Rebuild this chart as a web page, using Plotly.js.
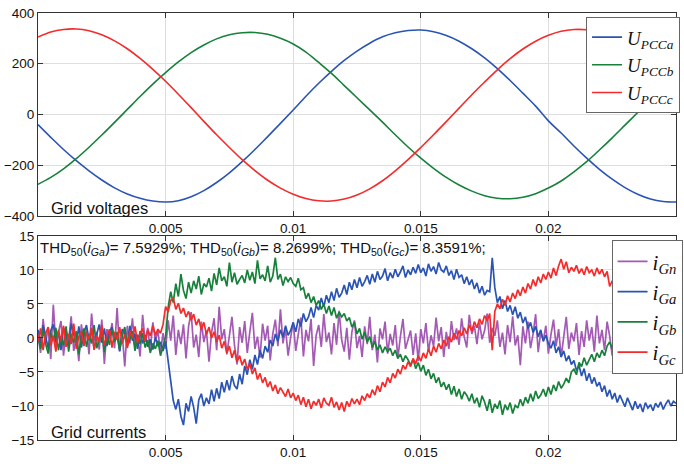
<!DOCTYPE html>
<html>
<head>
<meta charset="utf-8">
<script src="https://cdn.plot.ly/plotly-3.0.1.min.js"></script>
<style>html,body{margin:0;padding:0;background:#fff;}#chart{width:684px;height:464px;}</style>
</head>
<body>
<div id="chart"></div>
<script>
// ---- Grid voltages (sampled every 0.0005 s from t = 0) ----
const V_T0 = 0, V_DT = 0.0005;
const uPCCa = [-40, -90, -138, -182, -222, -258, -289, -313, -330, -341,
  -345, -340, -324, -300, -268, -230, -186, -138, -87, -35,
  18, 72, 123, 170, 213, 250, 281, 306, 322, 331,
  333, 326, 311, 289, 259, 223, 181, 134, 84, 33,
  -25, -73, -124, -172, -216, -255, -288, -314, -333, -343, -345];
const uPCCb = [-275, -248, -214, -174, -129, -81, -31, 20, 71, 120,
  165, 207, 244, 274, 298, 314, 322, 323, 316, 300,
  278, 246, 205, 162, 114, 66, 18, -30, -80, -128,
  -172, -212, -248, -278, -302, -320, -330, -332, -326, -312,
  -290, -262, -226, -186, -140, -92, -42, 8, 58, 106, 158];
const uPCCc = [305, 325, 335, 337, 330, 314, 290, 259, 221, 178,
  131, 80, 27, -27, -80, -130, -178, -221, -259, -290,
  -314, -331, -340, -341, -333, -317, -293, -261, -222, -178,
  -130, -80, -28, 25, 78, 128, 176, 220, 258, 289,
  312, 328, 335, 334, 326, 311, 289, 261, 227, 190, 150];

// ---- Grid currents (sampled every 0.0001 s from t = 0) ----
const I_T0 = 0, I_DT = 0.0001;
const iGn = [
  0.5, -2.2, 2.8, -0.7, 1.6, -3.1, 4.9, -1.2, 0.8, 2.5,
  -2.6, 1.1, -0.4, 3.2, -1.9, 0.2, -3.4, 2.0, -0.9, 1.4,
  -2.4, 3.6, -0.5, 0.9, -1.7, 2.7, -3.8, 1.3, -0.2, 2.2,
  -1.5, 4.4, -2.0, 0.6, -4.2, 1.8, -0.8, 2.9, -1.3, 0.4,
  -2.7, 3.4, -0.6, 1.5, -1.9, 2.3, -0.3, 1.0, -2.1, 0.7,
  -1.6, 2.6, -0.4, 3.3, -2.5, 1.2, -0.9, 2.0, -3.0, 1.7,
  3.8, -1.4, 0.5, -2.8, 2.4, -0.6, 1.1, -3.5, 0.8, 2.9,
  -1.8, 4.6, -0.2, 1.3, -2.4, 0.3, 3.1, -1.1, -3.9, 1.6,
  -0.7, 2.5, -2.2, 0.9, 3.7, -1.6, 0.2, -2.9, 2.1, -0.4,
  1.8, -3.3, 0.6, 2.7, -1.2, 4.2, -0.8, 1.4, -2.6, 0.1,
  2.3, -1.9, 0.7, 3.0, -2.7, 1.2, -0.5, 2.8, -4.1, 0.4,
  1.9, -1.3, 3.5, -0.6, 0.8, -2.4, 2.2, -1.0, 4.0, -0.3,
  -2.0, 1.5, -3.2, 0.9, 2.6, -1.5, 0.3, -2.8, 1.7, -0.9,
  3.1, -1.8, 0.5, -3.6, 1.4, -0.2, 2.4, -2.3, 0.6, -1.1,
  1.9, -3.0, 0.2, 2.8, -1.6, -0.4, 1.1, -2.5, 0.7, -3.4,
  1.3, -0.8, 2.2, -2.0, 0.4, -1.2, 3.0, -0.5, 1.6, -2.8,
  0.9, -1.6, 2.5, -0.3, 1.4, -1.0, 2.9, 0.2, -1.4, 3.4,
  0.6, 1.8, -0.9, 2.3, -0.2, 1.1, 3.6, -0.7, 1.5, 0.3,
  2.6, -1.3, 0.8, -2.4, 1.9, -0.6, 3.2, -1.1, 0.4, -4.0,
  1.7, -0.8, 2.4, -1.5, 0.6, 3.5, -2.1, 0.9, -0.4, 1.8,
  -2.3, 0.5, 2.7, -1.2, 1.3, -2.8, 0.2, 3.1, -1.6, 0.8,
  -0.5, 2.2, -2.5, 1.0, -1.3, 2.6, -0.4, 1.6, -2.0, 3.3,
  -0.8, 1.2, -1.8, 2.4, 0.3, -2.6, 1.5, -0.6, 3.8, -1.0,
  0.7, 2.0, -1.7, 4.6, -0.3, 1.4, -2.2, 0.9, 2.9, -1.4,
  0.4, -2.9, 1.8, -0.7, 2.5, -1.6, 0.6, 3.0, -1.2, 0.2,
  1.1];
const iGa = [
  1.2, -0.8, 1.9, 0.4, -1.5, 1.1, 2.0, -0.6, 0.9, -1.8,
  1.5, 0.2, -1.1, 2.1, 0.6, -0.9, 1.7, -1.4, 0.8, 1.9,
  -0.3, 1.2, -1.7, 0.5, 2.0, -0.7, 1.4, -1.2, 0.9, 1.6,
  -0.5, 0.3, -1.9, 1.3, 0.7, -1.0, 1.8, -0.4, 0.6, -1.6,
  1.0, -0.8, 0.4, -1.3, -0.2, -1.7, 0.1, -1.2, -0.6, -1.9,
  -0.5, -3.5, -7.0, -9.2, -10.5, -9.0, -11.5, -12.8, -9.6, -10.8,
  -8.6, -10.2, -12.6, -9.1, -8.2, -10.0, -8.8, -9.7, -7.6, -9.3,
  -7.4, -8.9, -6.5, -8.0, -6.2, -7.7, -5.6, -7.0, -7.5, -5.3,
  -6.8, -4.1, -5.4, -3.2, -4.6, -2.5, -3.9, -1.8, -3.0, -1.2,
  -2.1, -0.3, -1.2, 0.6, -0.5, 1.2, 0.1, 1.8, 0.4, 1.1,
  2.3, 0.9, 2.8, 1.7, 3.6, 2.4, 3.1, 4.5, 3.0, 4.8,
  4.1, 5.9, 4.6, 6.3, 5.2, 6.8, 5.5, 7.3, 6.0, 6.6,
  7.8, 6.4, 8.2, 7.1, 8.6, 7.4, 8.9, 7.6, 8.3, 9.2,
  7.9, 9.4, 8.2, 9.8, 8.6, 9.1, 10.2, 8.4, 9.6, 8.8,
  10.1, 9.0, 9.7, 10.6, 8.9, 10.0, 9.3, 10.4, 9.5, 10.8,
  9.6, 10.3, 9.1, 10.9, 9.8, 10.5, 9.4, 11.1, 10.0, 9.7,
  10.6, 9.2, 9.9, 8.6, 10.1, 8.9, 9.3, 8.0, 9.0, 7.8,
  8.6, 7.2, 8.1, 6.6, 7.6, 6.3, 7.0, 6.8, 11.8, 7.4,
  5.2, 6.1, 4.3, 5.5, 3.9, 4.8, 3.4, 4.6, 2.9, 3.8,
  2.2, 3.1, 1.4, 2.3, 0.8, 1.7, 0.2, 1.2, -0.5, 0.4,
  -0.8, -1.5, -0.4, -2.2, -1.3, -2.8, -1.9, -3.4, -2.6, -3.9,
  -3.3, -4.8, -4.0, -5.6, -4.5, -6.3, -5.2, -6.7, -5.8, -7.1,
  -6.5, -7.9, -7.0, -8.6, -7.6, -9.0, -8.1, -9.5, -8.4, -9.2,
  -10.1, -8.8, -9.8, -10.6, -9.3, -10.4, -9.7, -10.9, -9.5, -10.3,
  -9.8, -10.7, -9.6, -10.2, -9.4, -10.5, -9.7, -9.1, -10.0, -9.3,
  -9.6];
const iGb = [
  0.3, -1.6, 1.2, -0.9, -2.3, 0.8, -0.4, 1.5, -1.8, 0.2,
  -1.1, 1.7, -2.0, 0.6, -0.7, 1.0, -2.4, 0.1, 1.4, -1.3,
  0.5, -0.8, 1.9, -1.5, -0.2, 1.1, -2.1, 0.4, -1.0, 1.3,
  -0.6, 0.9, -1.7, 0.3, 1.6, -1.2, -0.1, 1.0, -1.9, 0.5,
  -0.9, 0.7, -1.4, -0.3, -2.2, -0.8, -1.6, -0.4, -2.6, -1.1,
  0.2, 4.5, 6.8, 5.2, 8.0, 6.1, 9.4, 7.0, 5.8, 8.2,
  6.6, 8.4, 7.2, 9.1, 6.4, 8.0, 7.5, 8.8, 6.9, 9.5,
  7.8, 10.3, 8.4, 9.0, 7.6, 11.1, 8.2, 9.6, 7.9, 8.6,
  9.2, 8.1, 10.0, 8.5, 9.7, 8.0, 11.4, 8.7, 9.3, 8.4,
  10.6, 8.2, 9.1, 11.8, 8.6, 9.4, 7.7, 9.0, 8.3, 8.9,
  8.0, 7.6, 8.8, 7.1, 7.4, 5.8, 6.6, 5.2, 6.1, 4.8,
  5.5, 4.2, 5.0, 3.6, 4.7, 3.3, 4.5, 2.9, 3.8, 3.1,
  3.6, 2.5, 3.0, 1.6, 2.3, 0.6, 1.4, -0.2, 0.9, -0.6,
  0.2, -1.4, -0.5, -1.8, -1.0, -2.2, -1.3, -2.0, -1.5, -2.6,
  -1.8, -3.0, -2.4, -3.5, -2.6, -3.2, -4.0, -3.1, -4.5, -3.6,
  -4.9, -4.0, -5.5, -4.6, -6.0, -5.2, -6.6, -5.8, -7.2, -6.5,
  -7.6, -6.8, -8.3, -7.1, -8.6, -7.5, -9.0, -7.9, -8.4, -9.3,
  -8.2, -9.6, -8.8, -10.2, -8.5, -9.4, -10.7, -9.0, -11.0, -9.7,
  -10.4, -9.2, -11.3, -9.8, -10.6, -9.5, -11.1, -9.9, -10.3, -9.0,
  -10.0, -8.7, -9.6, -8.2, -9.3, -7.8, -8.9, -8.4, -7.5, -8.6,
  -7.2, -8.3, -6.9, -7.8, -6.4, -7.4, -6.8, -5.9, -6.6, -5.0,
  -4.6, -5.4, -3.6, -4.2, -2.9, -4.0, -3.3, -2.4, -3.5, -2.2,
  -2.9, -1.8, -2.6, -1.2, -0.6, -1.6, -0.2, -1.0, 0.6, -0.3,
  1.1, 0.2, 1.8, 0.9, 2.4, 1.5, 3.0, 2.1, 3.5, 2.7,
  3.8, 3.1, 4.5, 3.6, 5.0, 4.2, 5.4, 4.7, 5.9, 5.2,
  6.0];
const iGc = [
  -0.5, 1.4, -1.8, 0.7, 1.6, -1.1, 0.3, -2.0, 1.2, -0.4,
  1.8, -1.3, 0.6, -0.9, 2.1, -1.6, 0.2, 1.0, -1.2, 0.8,
  -0.2, 1.5, -1.7, 0.4, -0.6, 1.9, -1.0, 0.1, 1.3, -1.4,
  0.9, -0.3, 1.6, -0.8, 0.5, -1.5, 1.1, 0.0, 1.7, -0.7,
  0.6, 1.4, -0.5, 1.2, 0.3, 1.8, 0.4, 1.3, 0.7, 2.0,
  4.6, 3.8, 5.5, 5.9, 4.2, 5.1, 3.6, 4.4, 3.1, 3.9,
  2.6, 3.5, 1.9, 2.8, 1.2, 2.3, 0.5, 1.6, 0.0, 0.9,
  -0.6, 0.4, -1.5, -0.5, -2.2, -1.2, -2.9, -1.8, -3.5, -2.6,
  -4.0, -3.1, -4.6, -3.8, -5.3, -4.4, -6.1, -5.2, -6.6, -5.8,
  -7.2, -6.4, -7.8, -6.9, -8.2, -7.3, -7.9, -8.6, -7.5, -8.8,
  -8.1, -9.2, -8.4, -9.8, -8.7, -10.1, -9.0, -10.4, -9.3, -9.9,
  -9.0, -10.3, -8.8, -9.6, -9.9, -8.7, -10.2, -9.4, -10.6, -9.5,
  -10.8, -9.3, -10.1, -8.9, -9.7, -9.0, -9.8, -8.5, -9.2, -8.2,
  -8.8, -7.6, -8.4, -7.0, -7.9, -6.5, -7.2, -5.8, -6.6, -5.2,
  -5.9, -4.6, -5.3, -4.0, -4.6, -3.5, -4.2, -3.0, -3.8, -2.6,
  -3.4, -2.2, -3.0, -1.6, -2.6, -1.2, -2.1, -0.8, -1.6, -0.3,
  -1.2, 0.2, -0.6, 0.7, -0.2, 1.1, 0.3, 1.5, 0.6, 1.9,
  1.0, 2.4, 1.5, 2.8, 2.0, 3.3, 2.5, 3.6, -1.8, 3.9,
  5.0, 4.3, 5.7, 4.8, 6.2, 5.3, 6.6, 5.8, 7.1, 6.2,
  7.5, 6.6, 8.0, 7.2, 8.6, 7.6, 9.0, 8.1, 9.4, 8.6,
  9.7, 8.8, 10.3, 9.2, 10.6, 11.6, 10.1, 11.2, 9.6, 10.4,
  9.8, 10.7, 9.5, 10.2, 9.3, 10.5, 9.6, 10.0, 9.1, 10.3,
  9.4, 10.1, 9.0, 9.8, 7.6, 8.4, 6.9, 7.8, 6.5, 7.3,
  6.2, 7.0, 5.8, 6.6, 5.5, 6.3, 5.2, 5.9, 4.8, 5.6,
  4.6, 5.3, 4.2, 5.0, 3.9, 4.7, 3.6, 4.4, 3.3, 4.1,
  3.8];

// ---- Labels ----
const voltNames = ['<i>U<sub>PCCa</sub></i>', '<i>U<sub>PCCb</sub></i>', '<i>U<sub>PCCc</sub></i>'];
const currNames = ['<i>i<sub>Gn</sub></i>', '<i>i<sub>Ga</sub></i>', '<i>i<sub>Gb</sub></i>', '<i>i<sub>Gc</sub></i>'];
const xTickVals = [0.005, 0.01, 0.015, 0.02];
const xTickText = ['0.005', '0.01', '0.015', '0.02'];
const vTickVals = [-400, -200, 0, 200, 400];
const iTickVals = [-15, -10, -5, 0, 5, 10, 15];
const thdText = 'THD<sub>50</sub>(<i>i<sub>Ga</sub></i>)= 7.5929%; THD<sub>50</sub>(<i>i<sub>Gb</sub></i>)= 8.2699%; THD<sub>50</sub>(<i>i<sub>Gc</sub></i>)= 8.3591%;';

const BLUE = '#2a54b4', GREEN = '#17803a', RED = '#f52a2a', PURPLE = '#a45ab4';

const traces = [
  {y: uPCCa, x0: V_T0, dx: V_DT, name: voltNames[0], line: {color: BLUE, width: 1.6, shape: 'spline'}, xaxis: 'x', yaxis: 'y', legend: 'legend'},
  {y: uPCCb, x0: V_T0, dx: V_DT, name: voltNames[1], line: {color: GREEN, width: 1.6, shape: 'spline'}, xaxis: 'x', yaxis: 'y', legend: 'legend'},
  {y: uPCCc, x0: V_T0, dx: V_DT, name: voltNames[2], line: {color: RED, width: 1.6, shape: 'spline'}, xaxis: 'x', yaxis: 'y', legend: 'legend'},
  {y: iGn, x0: I_T0, dx: I_DT, name: currNames[0], line: {color: PURPLE, width: 1.7}, xaxis: 'x2', yaxis: 'y2', legend: 'legend2'},
  {y: iGa, x0: I_T0, dx: I_DT, name: currNames[1], line: {color: BLUE, width: 1.7}, xaxis: 'x2', yaxis: 'y2', legend: 'legend2'},
  {y: iGb, x0: I_T0, dx: I_DT, name: currNames[2], line: {color: GREEN, width: 1.7}, xaxis: 'x2', yaxis: 'y2', legend: 'legend2'},
  {y: iGc, x0: I_T0, dx: I_DT, name: currNames[3], line: {color: RED, width: 1.7}, xaxis: 'x2', yaxis: 'y2', legend: 'legend2'}
].map(t => Object.assign({type: 'scatter', mode: 'lines', hoverinfo: 'skip'}, t));

const axisFont = {family: 'Arial, Liberation Sans, sans-serif', size: 13.5, color: '#111'};
const xBase = {
  range: [0, 0.025], tickvals: xTickVals, ticktext: xTickText,
  showgrid: true, gridcolor: '#dedede', gridwidth: 1,
  showline: true, linecolor: '#333', linewidth: 1, mirror: 'ticks',
  ticks: 'inside', ticklen: 5, tickcolor: '#333',
  zeroline: false, tickfont: axisFont
};
const yBase = {
  showgrid: true, gridcolor: '#dedede', gridwidth: 1,
  showline: true, linecolor: '#333', linewidth: 1, mirror: 'ticks',
  ticks: 'inside', ticklen: 5, tickcolor: '#333',
  zeroline: false, tickfont: axisFont
};

const legendBase = {
  xanchor: 'left', yanchor: 'top', bgcolor: '#ffffff',
  bordercolor: '#666', borderwidth: 1,
  font: {family: 'Liberation Serif, Times New Roman, serif', size: 19, color: '#111'},
  tracegroupgap: 0, itemwidth: 30
};

const layout = {
  width: 684, height: 464,
  margin: {l: 38, r: 1, t: 13, b: 24, pad: 0},
  paper_bgcolor: '#ffffff', plot_bgcolor: '#ffffff',
  showlegend: true,
  xaxis: Object.assign({}, xBase, {anchor: 'y', domain: [0, 1]}),
  yaxis: Object.assign({}, yBase, {anchor: 'x', domain: [0.5246, 1], range: [-400, 400], tickvals: vTickVals}),
  xaxis2: Object.assign({}, xBase, {anchor: 'y2', domain: [0, 1]}),
  yaxis2: Object.assign({}, yBase, {anchor: 'x2', domain: [0, 0.4778], range: [-15, 15], tickvals: iTickVals}),
  legend: Object.assign({}, legendBase, {x: 0.859, y: 0.99}),
  legend2: Object.assign({}, legendBase, {x: 0.899, y: 0.468,
    font: {family: 'Liberation Serif, Times New Roman, serif', size: 21, color: '#111'}}),
  annotations: [
    {text: 'Grid voltages', xref: 'x domain', yref: 'y domain', x: 0.018, y: 0, xanchor: 'left', yanchor: 'bottom', yshift: -3, showarrow: false,
     font: {family: 'Arial, Liberation Sans, sans-serif', size: 16.5, color: '#111'}},
    {text: 'Grid currents', xref: 'x2 domain', yref: 'y2 domain', x: 0.018, y: 0, xanchor: 'left', yanchor: 'bottom', yshift: -3, showarrow: false,
     font: {family: 'Arial, Liberation Sans, sans-serif', size: 16.5, color: '#111'}},
    {text: thdText, xref: 'x2 domain', yref: 'y2 domain', x: 0, y: 1, xanchor: 'left', yanchor: 'top', yshift: -1, showarrow: false,
     font: {family: 'Arial, Liberation Sans, sans-serif', size: 15, color: '#111'}}
  ]
};

Plotly.newPlot('chart', traces, layout, {staticPlot: true, displayModeBar: false});
</script>
</body>
</html>
